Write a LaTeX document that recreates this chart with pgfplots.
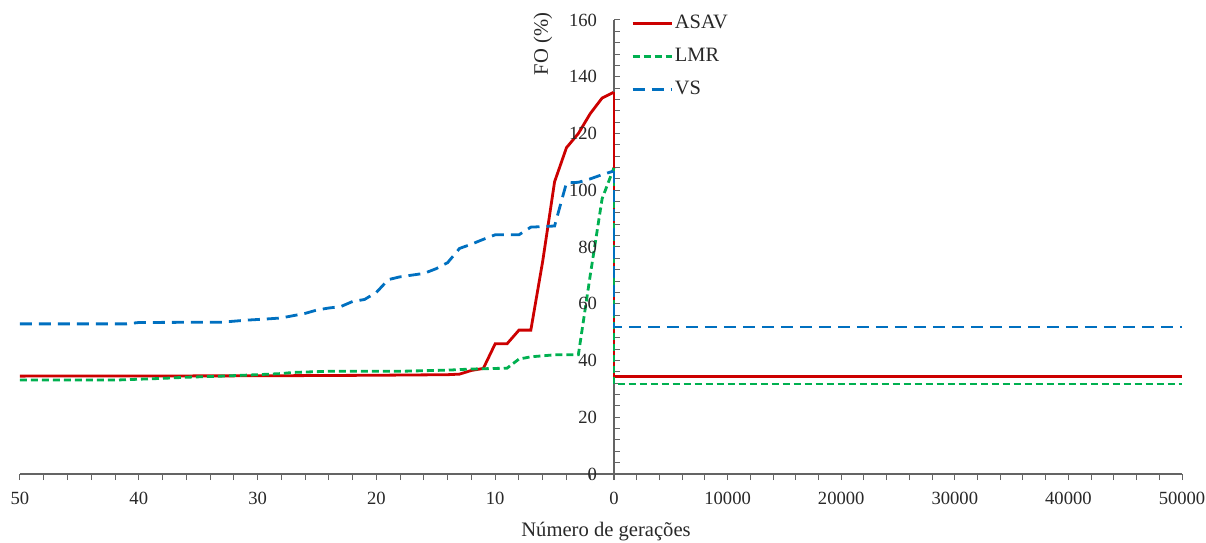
\documentclass[border=0pt]{standalone}
\usepackage{fontspec}
\setmainfont{Liberation Serif}
\usepackage{pgfplots}
\pgfplotsset{compat=1.18}
\definecolor{cRed}{RGB}{204,0,0}
\definecolor{cGreen}{RGB}{0,176,80}
\definecolor{cBlue}{RGB}{0,112,192}
\definecolor{axc}{RGB}{100,100,100}
\definecolor{txc}{RGB}{40,40,40}

\begin{document}
\begin{tikzpicture}[font=\fontsize{9.3}{11}\selectfont]
\pgfplotsset{
  base/.style={scale only axis, height=227pt, ymin=0, ymax=160, clip=false,
    axis line style={axc, line width=0.6pt, -},
    tick style={axc, line width=0.5pt},
    major tick length=3pt, minor tick length=3pt,
    tick label style={txc},
    xticklabel style={yshift=-2.5pt},
    scaled x ticks=false, scaled y ticks=false,
  },
  sRed/.style={cRed, line width=1.4pt},
  sGreen/.style={cGreen, line width=1.4pt, dash pattern=on 3.5pt off 2pt},
  sBlue/.style={cBlue, line width=1.4pt, dash pattern=on 6pt off 3.5pt},
}
% left panel: 50 -> 0 generations
\begin{axis}[base, at={(10pt,34pt)}, anchor=south west, width=297pt,
  x dir=reverse, xmin=0, xmax=50,
  axis x line*=bottom, axis y line=none,
  xtick={0,10,20,30,40,50}, xticklabels={0,10,20,30,40,50},
  minor x tick num=4, xtick align=outside]
\addplot[sRed] coordinates {(50,34.5) (30,34.6) (20,34.8) (14,35.0) (13,35.2) (12,36.5) (11,37.2) (10,45.9) (9,45.9) (8,50.7) (7,50.7) (6,75) (5,103) (4,115) (3,120) (2,127) (1,132.5) (0,134.6)};
\addplot[sGreen] coordinates {(50,33.1) (42,33.1) (40,33.4) (38,33.7) (36,34.1) (33,34.5) (30,35.0) (28,35.4) (27,35.8) (24,36.2) (18,36.2) (14,36.6) (12,37.0) (9,37.3) (8,40.5) (7,41.3) (5,42.0) (3,42.0) (2,70) (1,97) (0,108)};
\addplot[sBlue] coordinates {(50,52.9) (41,52.9) (40,53.4) (33,53.5) (31,54.2) (29,54.7) (28,55.0) (27,55.8) (26,56.6) (25,57.8) (24,58.5) (23,59.0) (22,60.8) (21,61.5) (20,64) (19,68.5) (18,69.5) (16,70.7) (15,72.3) (14,74.5) (13,79.5) (12,81.0) (11,82.7) (10,84.3) (8,84.3) (7,87.0) (5,87.4) (4,102.6) (3,102.8) (2,104) (1,105.5) (0,106.8)};
\end{axis}
% right panel: 0 -> 50000
\begin{axis}[base, at={(307pt,34pt)}, anchor=south west, width=284pt,
  xmin=0, xmax=50000,
  axis x line*=bottom, axis y line*=left,
  xtick={0,10000,20000,30000,40000,50000},
  xticklabels={,10000,20000,30000,40000,50000},
  minor x tick num=4, xtick align=outside,
  ytick={0,20,40,60,80,100,120,140,160},
  yticklabels={0,20,40,60,80,100,120,140,160},
  minor y tick num=4, ytick align=inside,
  yticklabel style={xshift=-5pt},
  ylabel={FO (\%)},
  ylabel style={at={(axis description cs:-0.125,0.947)}, anchor=center, txc,
    font=\fontsize{10.3}{12}\selectfont},
  legend style={at={(axis description cs:0.019,1.025)}, anchor=north west,
    draw=none, fill=none, row sep=6.3pt, font=\fontsize{10.2}{12}\selectfont,
    nodes={inner sep=1pt, text=txc}},
  legend cell align=left,
  legend image code/.code={\draw[#1] (0pt,0pt) -- (19.5pt,0pt);}]
\addplot[sRed] coordinates {(0,134.6) (0,34.5) (50000,34.5)};
\addlegendentry{ASAV}
\addplot[sGreen] coordinates {(0,108) (0,31.7) (50000,31.7)};
\addlegendentry{LMR}
\addplot[sBlue] coordinates {(0,106.8) (0,51.8) (50000,51.8)};
\addlegendentry{VS}
\end{axis}
\node[anchor=base, text=txc, font=\fontsize{10.3}{12}\selectfont] at (303pt,2.6pt) {Número de gerações};
\pgfresetboundingbox
\useasboundingbox (0,0) rectangle (603pt,271pt);
\end{tikzpicture}
\end{document}
